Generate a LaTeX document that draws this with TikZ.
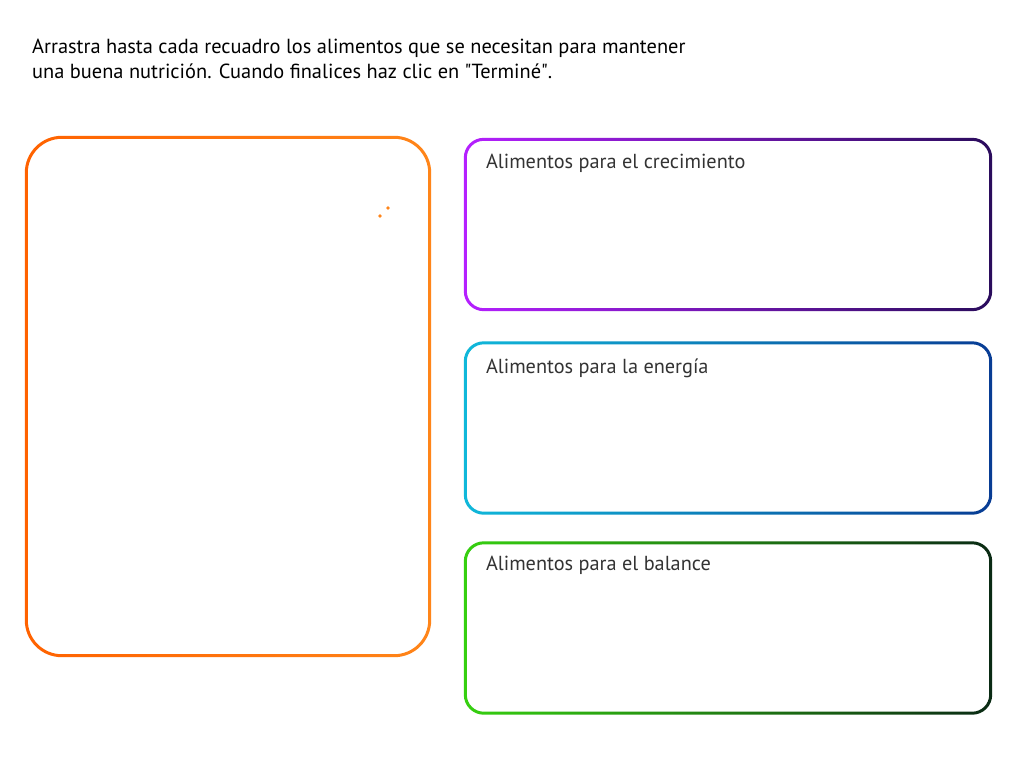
\documentclass[tikz,border=0pt]{standalone}
\usepackage{fontspec}
\setmainfont{PT Sans}

\definecolor{naranjaA}{HTML}{FF6200}
\definecolor{naranjaB}{HTML}{FF8519}
\definecolor{moradoA}{HTML}{B520FF}
\definecolor{moradoB}{HTML}{2A0C5C}
\definecolor{azulA}{HTML}{10B8DA}
\definecolor{azulB}{HTML}{083C94}
\definecolor{verdeA}{HTML}{36D010}
\definecolor{verdeB}{HTML}{0A2A14}

\begin{document}
\begin{tikzpicture}[x=1pt, y=-1pt,
		recuadro/.style={draw=none, inner sep=0pt, minimum width=528, minimum height=173},
		titulo/.style={anchor=base west, inner sep=0pt, text=black!80, font=\fontsize{20.3}{24}\selectfont}]
		\fill[white] (0,0) rectangle (1024,768);
		\useasboundingbox (0,0) rectangle (1024,768);
		% instrucciones
		\node[anchor=base west, inner sep=0pt, align=left, text=black, font=\fontsize{20.4}{25}\selectfont] (instr) at (32,78)
			{Arrastra hasta cada recuadro los alimentos que se necesitan para mantener\\una buena nutrición. Cuando finalices haz clic en \textquotedbl Terminé\textquotedbl.};
		% recuadro grande
		\node[draw=none, inner sep=0pt, minimum width=406, minimum height=521] (origen) at (228,396.5){};
		\shade[left color=naranjaA, right color=naranjaB, even odd rule, rounded corners=37]
			(origen.north west) rectangle (origen.south east)
			[rounded corners=34] ([shift={(3,3)}]origen.north west) rectangle ([shift={(-3,-3)}]origen.south east);
		\fill[naranjaB] (388,208) circle (1.8);
		\fill[naranjaB] (380,216) circle (1.8);
		% recuadros de destino
		\node[recuadro] (crec) at (728,224.5){};
		\node[recuadro] (energ) at (728,428){};
		\node[recuadro] (balan) at (728,628){};
		\shade[left color=moradoA, right color=moradoB, even odd rule, rounded corners=20]
			(crec.north west) rectangle (crec.south east)
			[rounded corners=17] ([shift={(3,3)}]crec.north west) rectangle ([shift={(-3,-3)}]crec.south east);
		\shade[left color=azulA, right color=azulB, even odd rule, rounded corners=20]
			(energ.north west) rectangle (energ.south east)
			[rounded corners=17] ([shift={(3,3)}]energ.north west) rectangle ([shift={(-3,-3)}]energ.south east);
		\shade[left color=verdeA, right color=verdeB, even odd rule, rounded corners=20]
			(balan.north west) rectangle (balan.south east)
			[rounded corners=17] ([shift={(3,3)}]balan.north west) rectangle ([shift={(-3,-3)}]balan.south east);
		\node[titulo] (crect) at ([shift={(22,31)}]crec.north west){Alimentos para el crecimiento};
		\node[titulo] (energt) at ([shift={(22,32)}]energ.north west){Alimentos para la energía};
		\node[titulo] (balant) at ([shift={(22,29)}]balan.north west){Alimentos para el balance};
		\end{tikzpicture}
\end{document}
